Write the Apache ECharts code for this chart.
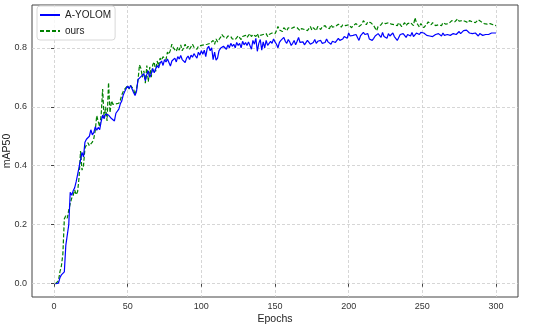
<!DOCTYPE html>
<html><head><meta charset="utf-8">
<script src="https://cdn.jsdelivr.net/npm/echarts@6/dist/echarts.min.js"></script>
<style>html,body{margin:0;padding:0;background:#fff}#c{width:550px;height:327px}</style>
</head><body><div id="c"></div>
<script>
const xTicks = [0, 50, 100, 150, 200, 250, 300];
const yTicks = [0, 0.2, 0.4, 0.6, 0.8];
const seriesNames = ['A-YOLOM', 'ours'];
const ayolom = [
0.000,0.000,0.002,0.020,0.030,0.028,0.040,0.130,0.125,0.200,
0.310,0.300,0.315,0.325,0.345,0.370,0.395,0.420,0.445,0.430,
0.480,0.490,0.488,0.500,0.522,0.505,0.512,0.532,0.520,0.530,
0.522,0.550,0.572,0.560,0.575,0.570,0.572,0.568,0.560,0.562,
0.552,0.578,0.582,0.592,0.610,0.620,0.640,0.652,0.662,0.670,
0.662,0.672,0.668,0.648,0.638,0.652,0.692,0.690,0.702,0.698,
0.712,0.688,0.710,0.722,0.700,0.712,0.730,0.715,0.728,0.740,
0.732,0.748,0.755,0.740,0.760,0.752,0.762,0.758,0.738,0.755,
0.760,0.765,0.752,0.770,0.762,0.774,0.760,0.755,0.750,0.765,
0.772,0.760,0.775,0.768,0.780,0.772,0.765,0.785,0.775,0.790,
0.778,0.792,0.770,0.798,0.805,0.790,0.800,0.760,0.785,0.758,
0.765,0.790,0.798,0.792,0.805,0.808,0.795,0.810,0.800,0.815,
0.805,0.812,0.800,0.818,0.808,0.815,0.800,0.822,0.810,0.818,
0.808,0.820,0.815,0.795,0.825,0.812,0.832,0.788,0.815,0.828,
0.792,0.820,0.800,0.825,0.808,0.812,0.822,0.815,0.830,0.820,
0.812,0.800,0.818,0.825,0.830,0.835,0.822,0.815,0.828,0.820,
0.808,0.815,0.825,0.810,0.822,0.835,0.818,0.812,0.820,0.810,
0.815,0.825,0.820,0.812,0.808,0.818,0.828,0.815,0.822,0.818,
0.825,0.815,0.820,0.818,0.830,0.820,0.815,0.812,0.822,0.825,
0.818,0.822,0.832,0.825,0.828,0.830,0.838,0.835,0.832,0.850,
0.840,0.835,0.842,0.838,0.845,0.848,0.825,0.840,0.835,0.852,
0.845,0.840,0.848,0.830,0.835,0.825,0.832,0.840,0.838,0.848,
0.842,0.835,0.852,0.838,0.842,0.832,0.848,0.840,0.845,0.850,
0.838,0.842,0.825,0.835,0.845,0.840,0.848,0.842,0.835,0.845,
0.848,0.840,0.852,0.838,0.842,0.850,0.848,0.845,0.852,0.855,
0.850,0.845,0.842,0.848,0.840,0.845,0.838,0.832,0.845,0.842,
0.848,0.845,0.840,0.850,0.842,0.838,0.845,0.848,0.842,0.840,
0.848,0.852,0.845,0.850,0.855,0.848,0.852,0.858,0.855,0.860,
0.855,0.850,0.852,0.848,0.845,0.850,0.852,0.840,0.848,0.845,
0.842,0.840,0.845,0.848,0.845,0.848,0.850,0.848,0.850,0.850
];
const ours = [
0.000,0.000,0.010,0.040,0.060,0.100,0.220,0.230,0.222,0.250,
0.272,0.290,0.300,0.318,0.302,0.312,0.360,0.450,0.385,0.400,
0.460,0.470,0.478,0.468,0.472,0.480,0.492,0.520,0.570,0.550,
0.532,0.572,0.660,0.560,0.600,0.552,0.682,0.580,0.620,0.608,
0.612,0.610,0.605,0.612,0.622,0.640,0.652,0.660,0.662,0.672,
0.660,0.672,0.668,0.660,0.640,0.660,0.690,0.742,0.730,0.700,
0.722,0.680,0.740,0.685,0.735,0.700,0.742,0.752,0.720,0.755,
0.738,0.765,0.758,0.770,0.772,0.760,0.785,0.778,0.792,0.812,
0.800,0.795,0.788,0.802,0.792,0.810,0.790,0.800,0.812,0.798,
0.805,0.795,0.800,0.812,0.802,0.808,0.795,0.805,0.800,0.808,
0.802,0.810,0.805,0.812,0.808,0.815,0.810,0.825,0.812,0.830,
0.820,0.828,0.835,0.845,0.838,0.842,0.832,0.840,0.835,0.838,
0.830,0.836,0.828,0.832,0.840,0.835,0.828,0.838,0.832,0.842,
0.835,0.840,0.848,0.838,0.845,0.842,0.838,0.848,0.835,0.842,
0.838,0.845,0.842,0.848,0.838,0.845,0.842,0.850,0.845,0.848,
0.858,0.872,0.860,0.865,0.855,0.868,0.862,0.858,0.868,0.872,
0.865,0.860,0.870,0.875,0.868,0.862,0.858,0.865,0.870,0.862,
0.868,0.858,0.865,0.872,0.860,0.868,0.865,0.858,0.872,0.868,
0.862,0.870,0.865,0.875,0.868,0.872,0.865,0.878,0.870,0.875,
0.872,0.878,0.880,0.875,0.870,0.878,0.882,0.875,0.880,0.878,
0.872,0.868,0.875,0.870,0.882,0.878,0.872,0.868,0.880,0.892,
0.885,0.878,0.888,0.892,0.885,0.880,0.875,0.870,0.858,0.872,
0.868,0.878,0.885,0.890,0.882,0.888,0.885,0.882,0.880,0.885,
0.878,0.882,0.875,0.885,0.880,0.872,0.878,0.885,0.875,0.882,
0.878,0.885,0.880,0.875,0.902,0.885,0.878,0.870,0.882,0.875,
0.868,0.872,0.880,0.888,0.882,0.878,0.885,0.880,0.875,0.872,
0.878,0.882,0.875,0.885,0.888,0.880,0.878,0.882,0.885,0.892,
0.895,0.888,0.892,0.898,0.890,0.885,0.892,0.895,0.890,0.888,
0.885,0.892,0.895,0.888,0.882,0.885,0.890,0.895,0.892,0.888,
0.885,0.882,0.878,0.880,0.885,0.882,0.880,0.878,0.878,0.875
];
const epochs = ayolom.map((_, i) => i + 1);

const chart = echarts.init(document.getElementById('c'), null, {renderer: 'canvas'});
const font = 'Liberation Sans';
const gridLine = {show: true, lineStyle: {color: '#cccccc', type: [3, 2], width: 0.8}};
chart.setOption({
  animation: false,
  backgroundColor: '#ffffff',
  grid: {left: 32, right: 32, top: 5, bottom: 30, outerBoundsMode: 'none', containLabel: false,
         show: true, borderColor: '#444', borderWidth: 1, backgroundColor: 'transparent'},
  legend: {
    orient: 'vertical', left: 37, top: 6,
    data: seriesNames,
    itemWidth: 20, itemHeight: 10, itemGap: 6,
    padding: [4, 4, 4, 2],
    itemStyle: {opacity: 0},
    borderColor: '#d8d8d8', borderWidth: 1, borderRadius: 3, backgroundColor: 'rgba(255,255,255,0.8)',
    textStyle: {fontFamily: font, fontSize: 10, color: '#222'}
  },
  xAxis: {
    type: 'value', min: -14.95, max: 314.95,
    name: 'Epochs', nameLocation: 'middle', nameGap: 17, nameMoveOverlap: false,
    nameTextStyle: {fontFamily: font, fontSize: 10.5, color: '#222'},
    axisLine: {show: false},
    axisTick: {show: true, length: 3, lineStyle: {color: '#444'}, customValues: xTicks},
    axisLabel: {fontFamily: font, fontSize: 9, color: '#333', margin: 5, customValues: xTicks, formatter: v => String(v)},
    splitLine: Object.assign({customValues: xTicks}, gridLine)
  },
  yAxis: {
    type: 'value', min: -0.045, max: 0.945,
    name: 'mAP50', nameLocation: 'middle', nameGap: 19, nameMoveOverlap: false,
    nameTextStyle: {fontFamily: font, fontSize: 10.5, color: '#222'},
    axisLine: {show: false},
    axisTick: {show: true, length: 3, lineStyle: {color: '#444'}, customValues: yTicks},
    axisLabel: {fontFamily: font, fontSize: 9, color: '#333', margin: 5, customValues: yTicks, formatter: v => v.toFixed(1)},
    splitLine: Object.assign({customValues: yTicks}, gridLine)
  },
  series: [
    {name: seriesNames[0], type: 'line', showSymbol: false, symbol: 'none',
     data: epochs.map((e, i) => [e, ayolom[i]]),
     lineStyle: {color: '#0000ff', width: 1.2}, itemStyle: {color: '#0000ff'}, z: 3},
    {name: seriesNames[1], type: 'line', showSymbol: false, symbol: 'none',
     data: epochs.map((e, i) => [e, ours[i]]),
     lineStyle: {color: '#008000', width: 1.2, type: [4, 2]}, itemStyle: {color: '#008000'}, z: 2}
  ]
});
</script></body></html>
